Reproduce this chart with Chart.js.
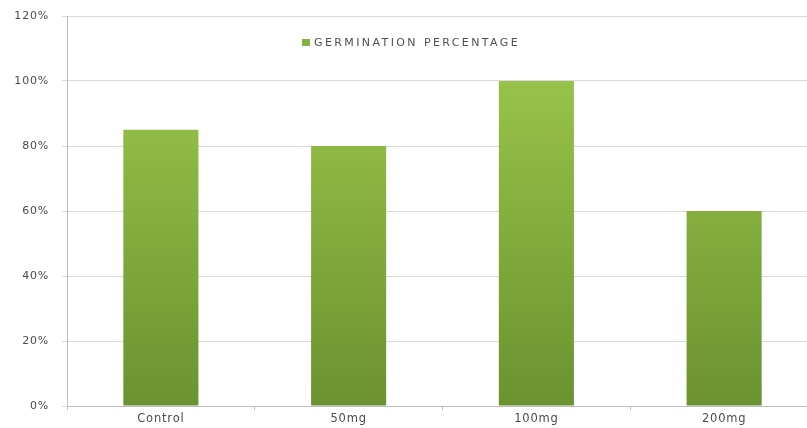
<!DOCTYPE html>
<html>
<head>
<meta charset="utf-8">
<script src="https://cdn.jsdelivr.net/npm/chart.js@4/dist/chart.umd.min.js"></script>
<style>
	html, body { margin: 0; padding: 0; background: #fff; overflow: hidden; }
	#wrap { position: relative; width: 818px; height: 428px; }
	#legend {
		position: absolute; left: 302px; top: 36px;
		font: 11px "DejaVu Sans", sans-serif; color: #505050; letter-spacing: 2.4px;
		display: flex; align-items: center;
	}
	#legend span.box { width: 8px; height: 7px; background: #86b23f; margin-right: 4px; display: inline-block; }
</style>
</head>
<body>
<div id="wrap">
	<canvas id="chart" width="818" height="428"></canvas>
	<div id="legend"></div>
</div>
<script>
const categories = ["Control", "50mg", "100mg", "200mg"]
const germination = [85, 80, 100, 60]
const seriesLabel = "GERMINATION PERCENTAGE"
const yTicks = [0, 20, 40, 60, 80, 100, 120]

function barGradient(context) {
	const chart = context.chart
	const area = chart.chartArea
	if (!area) return "#86b23f"
	const g = chart.ctx.createLinearGradient(0, area.top, 0, area.bottom)
	g.addColorStop(0, "#a0cc4e")
	g.addColorStop(1, "#6a9230")
	return g
}

// the reference text is drawn wide, so space the letters out a little
const wideText = {
	id: "wideText",
	beforeDraw(chart) { chart.ctx.letterSpacing = "0.8px" },
}

document.getElementById("legend").innerHTML = `<span class="box"></span>${seriesLabel}`

new Chart(document.getElementById("chart"), {
	type: "bar",
	data: {
		labels: categories,
		datasets: [{
			label: seriesLabel,
			data: germination,
			backgroundColor: barGradient,
			barPercentage: 0.4,
			categoryPercentage: 1,
		}],
	},
	plugins: [wideText],
	options: {
		responsive: false,
		animation: false,
		layout: { padding: { top: 16, right: 0, left: 0, bottom: 0 } },
		plugins: { legend: { display: false }, tooltip: { enabled: false } },
		scales: {
			x: {
				grid: { drawOnChartArea: false, drawTicks: true, tickLength: 4, offset: true, color: "#bfbfbf" },
				border: { color: "#bfbfbf" },
				ticks: { color: "#4a4a4a", font: { family: "DejaVu Sans", size: 11.5 }, padding: 2 },
				afterFit: (scale) => { scale.height = 22 },
			},
			y: {
				min: 0,
				max: 120,
				afterBuildTicks: (scale) => { scale.ticks = yTicks.map((v) => ({ value: v })) },
				grid: { color: "#d9d9d9", tickLength: 5 },
				border: { color: "#bfbfbf" },
				ticks: { color: "#4a4a4a", font: { family: "DejaVu Sans", size: 11 }, padding: 13, callback: (v) => v + "%" },
				afterFit: (scale) => {
					scale.width = 67
					scale.paddingTop = 0
				},
			},
		},
	},
})
</script>
</body>
</html>
